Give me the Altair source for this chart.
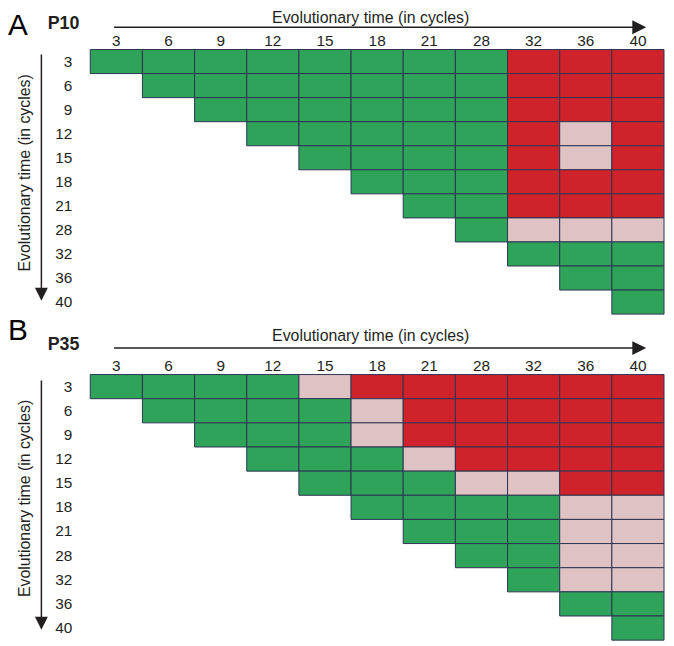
import altair as alt
import pandas as pd

# ---- data -------------------------------------------------------------
cycles = [3, 6, 9, 12, 15, 18, 21, 28, 32, 36, 40]
# one string per row (row = cycle), covering the columns from that row's cycle onward
# G = green, R = red, P = pink
p10_rows = ["GGGGGGGGRRR", "GGGGGGGRRR", "GGGGGGRRR", "GGGGGRPR", "GGGGRPR",
            "GGGRRR", "GGRRR", "GPPP", "GGG", "GG", "G"]
p35_rows = ["GGGGPRRRRRR", "GGGGPRRRRR", "GGGPRRRRR", "GGGPRRRR", "GGGPPRR",
            "GGGGPP", "GGGPP", "GGPP", "GPP", "GG", "G"]
status_codes = ["G", "R", "P"]
status_colors = ["#2fa35a", "#d0222b", "#dfc2c3"]
panel_letters = ["A", "B"]
panel_names = ["P10", "P35"]
axis_title = "Evolutionary time (in cycles)"


def cells(rows):
    recs = []
    for i, s in enumerate(rows):
        for k, ch in enumerate(s):
            recs.append({"row": cycles[i], "col": cycles[i + k], "status": ch})
    return pd.DataFrame(recs)


df_a = cells(p10_rows)
df_b = cells(p35_rows)
lab = pd.DataFrame({"cycle": cycles})

INK = "#231f20"
FONT = "Liberation Sans"
LAB = 15.5
TIT = 16

xscale = alt.Scale(domain=cycles, range=[83, 662], paddingInner=0, paddingOuter=0)


def yscale(r):
    return alt.Scale(domain=cycles, range=r, paddingInner=0, paddingOuter=0)


color = alt.Color("status:N", scale=alt.Scale(domain=status_codes, range=status_colors), legend=None)


def panel(df, yr, col_lab_y, letter, name, letter_y, name_y, title_y, arrow_y, yarrow, ytitle_y):
    layers = []
    layers.append(
        alt.Chart(df).mark_rect(stroke="#2d3552", strokeWidth=1).encode(
            x=alt.X("col:O", scale=xscale, axis=None),
            y=alt.Y("row:O", scale=yscale(yr), axis=None),
            color=color,
        )
    )
    layers.append(
        alt.Chart(lab).mark_text(fontSize=LAB, font=FONT, color=INK, baseline="middle").encode(
            x=alt.X("cycle:O", scale=xscale, axis=None),
            y=alt.value(col_lab_y),
            text="cycle:N",
        )
    )
    layers.append(
        alt.Chart(lab).mark_text(fontSize=LAB, font=FONT, color=INK, align="right", baseline="middle").encode(
            x=alt.value(65),
            y=alt.Y("cycle:O", scale=yscale(yr), axis=None),
            text="cycle:N",
        )
    )
    one = lambda v: pd.DataFrame({"t": [v]})
    layers.append(
        alt.Chart(one(letter)).mark_text(fontSize=30, font=FONT, color="#000000", align="left",
                                          baseline="alphabetic").encode(
            x=alt.value(0), y=alt.value(letter_y), text="t:N")
    )
    layers.append(
        alt.Chart(one(name)).mark_text(fontSize=18, font=FONT, fontWeight="bold", color=INK, align="left",
                                        baseline="alphabetic").encode(
            x=alt.value(40), y=alt.value(name_y), text="t:N")
    )
    layers.append(
        alt.Chart(one(axis_title)).mark_text(fontSize=TIT, font=FONT, color=INK, align="center",
                                              baseline="alphabetic").encode(
            x=alt.value(366), y=alt.value(title_y), text="t:N")
    )
    layers.append(
        alt.Chart(one(axis_title)).mark_text(fontSize=TIT, font=FONT, color=INK, align="center",
                                              baseline="middle", angle=270).encode(
            x=alt.value(17), y=alt.value(ytitle_y), text="t:N")
    )
    # horizontal arrow
    layers.append(
        alt.Chart(one(0)).mark_rule(color=INK, strokeWidth=1.5).encode(
            x=alt.value(107), x2=alt.value(632), y=alt.value(arrow_y))
    )
    layers.append(
        alt.Chart(one(0)).mark_point(shape="M-1,-1L1,0L-1,1Z", filled=True, size=196, color=INK,
                                     opacity=1, strokeWidth=0).encode(
            x=alt.value(637), y=alt.value(arrow_y))
    )
    # vertical arrow
    layers.append(
        alt.Chart(one(0)).mark_rule(color=INK, strokeWidth=1.5).encode(
            x=alt.value(33.7), y=alt.value(yarrow[0]), y2=alt.value(yarrow[1]))
    )
    layers.append(
        alt.Chart(one(0)).mark_point(shape="M-1,-1L1,-1L0,1Z", filled=True, size=169, color=INK,
                                     opacity=1, strokeWidth=0).encode(
            x=alt.value(33.7), y=alt.value(yarrow[1] + 5))
    )
    return layers


layers_a = panel(df_a, [39, 306], 30.5, panel_letters[0], panel_names[0],
                 24, 18, 12.5, 16.5, (44, 281), 163.5)
layers_b = panel(df_b, [367, 635], 358, panel_letters[1], panel_names[1],
                 332, 342, 333, 340.3, (373, 613), 492)

chart = alt.layer(*layers_a, *layers_b).resolve_scale(y="independent").properties(
    width=664, height=636,
    autosize=alt.AutoSizeParams(type="none"),
    padding=0,
).configure_view(stroke=None)

chart.save("out.html", embed_options={"renderer": "svg", "actions": False})
